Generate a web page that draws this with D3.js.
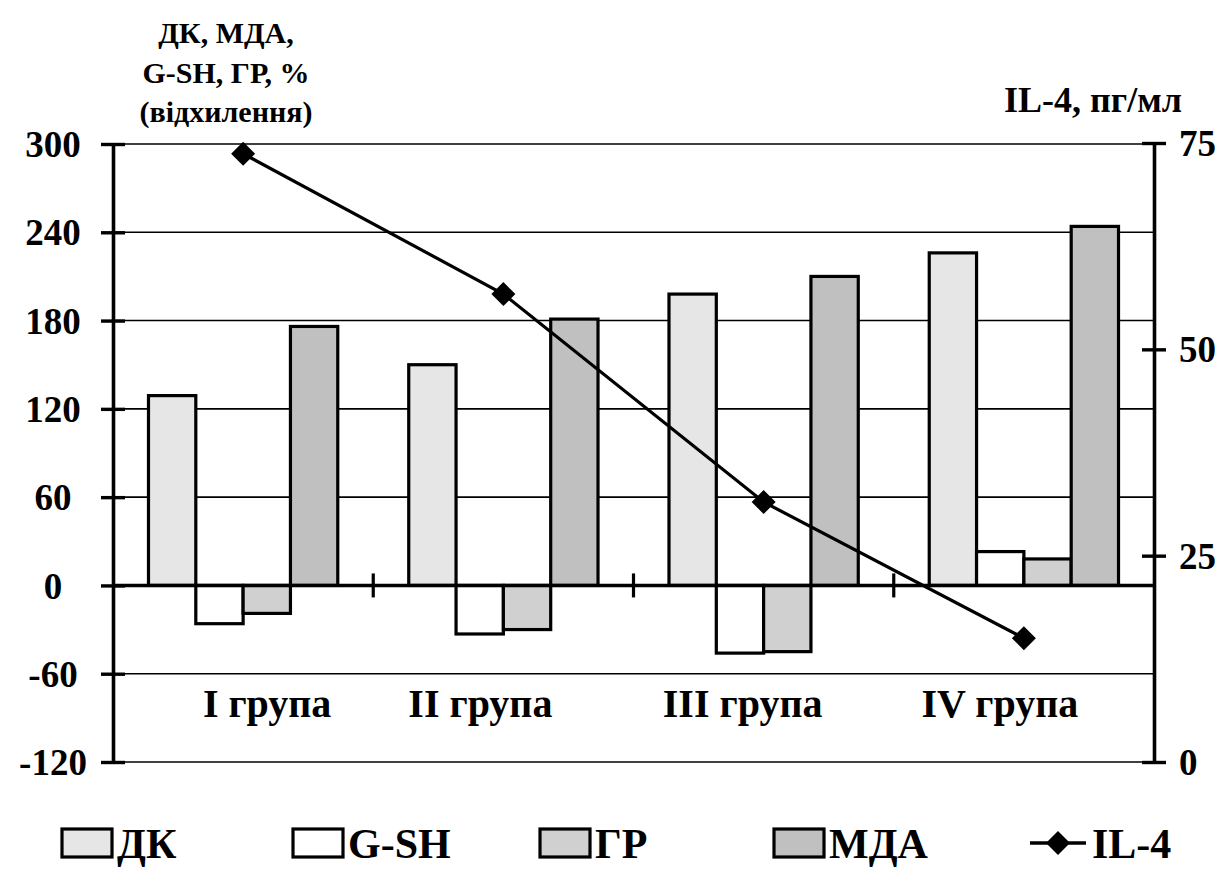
<!DOCTYPE html>
<html>
<head>
<meta charset="utf-8">
<script src="https://cdn.jsdelivr.net/npm/d3@7"></script>
<style>
  html, body { margin: 0; padding: 0; background: #fff; }
  svg { display: block; }
  svg text { font-family: "Liberation Serif", "Times New Roman", serif; font-weight: bold; fill: #000; }
</style>
</head>
<body>
<svg id="chart" width="1227" height="874"></svg>
<script>
// Groups and series
const groups = ["I група", "II група", "III група", "IV група"];
const seriesNames = ["ДК", "G-SH", "ГР", "МДА"];
const dkValues   = [129, 150, 198, 226];
const gshValues  = [-26, -33, -46, 23];
const grValues   = [-19, -30, -45, 18];
const mdaValues  = [176, 181, 210, 244];
const il4Values  = [73.7, 56.7, 31.5, 15.0];
const leftTicks  = [-120, -60, 0, 60, 120, 180, 240, 300];
const rightTicks = [0, 25, 50, 75];

const seriesFill = ["#e6e6e6", "#ffffff", "#d0d0d0", "#c0c0c0"];
const seriesValues = [dkValues, gshValues, grValues, mdaValues];

const svg = d3.select("#chart");

const plot = { left: 113, right: 1154, top: 144, bottom: 762 };

const x = d3.scaleBand().domain(groups).range([plot.left, plot.right]).padding(0);
const xs = d3.scaleBand().domain(seriesNames).range([0, x.bandwidth()])
  .paddingInner(0).paddingOuter(0.75);
const yL = d3.scaleLinear().domain([-120, 300]).range([plot.bottom, plot.top]);
const yR = d3.scaleLinear().domain([0, 75]).range([plot.bottom, plot.top - 1]);

// horizontal gridlines
svg.append("g").selectAll("line").data(leftTicks).join("line")
  .attr("x1", plot.left).attr("x2", plot.right)
  .attr("y1", d => yL(d)).attr("y2", d => yL(d))
  .attr("stroke", "#000").attr("stroke-width", 1.6);

// bars
const bars = [];
groups.forEach((g, gi) => {
  seriesNames.forEach((s, si) => {
    bars.push({ g, s, v: seriesValues[si][gi], fill: seriesFill[si] });
  });
});
svg.append("g").selectAll("rect").data(bars).join("rect")
  .attr("x", d => x(d.g) + xs(d.s))
  .attr("width", xs.bandwidth())
  .attr("y", d => yL(Math.max(0, d.v)))
  .attr("height", d => Math.abs(yL(d.v) - yL(0)))
  .attr("fill", d => d.fill)
  .attr("stroke", "#000").attr("stroke-width", 3.2);

// category axis along zero
const zeroY = yL(0);
svg.append("line").attr("x1", plot.left).attr("x2", plot.right)
  .attr("y1", zeroY).attr("y2", zeroY)
  .attr("stroke", "#000").attr("stroke-width", 3.4);
svg.append("g").selectAll("line").data(groups.slice(1)).join("line")
  .attr("x1", d => x(d)).attr("x2", d => x(d))
  .attr("y1", zeroY - 12).attr("y2", zeroY + 12)
  .attr("stroke", "#000").attr("stroke-width", 3.2);

const plainNumber = d => String(d);

// left value axis (labels centred in the margin)
const leftAxis = d3.axisLeft(yL).tickValues(leftTicks).tickFormat(plainNumber)
  .tickSizeInner(12).tickSizeOuter(0).tickPadding(18);
const gL = svg.append("g").attr("transform", `translate(${plot.left},0)`).call(leftAxis);
gL.attr("font-family", null).attr("font-size", null);
gL.select(".domain").attr("stroke-width", 3.6);
gL.selectAll(".tick line").attr("x1", 12).attr("x2", -12).attr("stroke-width", 3.4);
gL.selectAll(".tick text").style("font-size", "37px").attr("dy", "0.34em")
  .attr("text-anchor", "middle").attr("x", 53 - plot.left);

// right value axis
const rightAxis = d3.axisRight(yR).tickValues(rightTicks).tickFormat(plainNumber)
  .tickSizeInner(12).tickSizeOuter(0).tickPadding(13);
const gR = svg.append("g").attr("transform", `translate(${plot.right},0)`).call(rightAxis);
gR.attr("font-family", null).attr("font-size", null);
gR.select(".domain").attr("stroke-width", 3.6);
gR.selectAll(".tick line").attr("x1", -12).attr("x2", 12).attr("stroke-width", 3.4);
gR.selectAll(".tick text").style("font-size", "37px").attr("dy", "0.34em");

// IL-4 line
const cx = g => x(g) + x.bandwidth() / 2;
const il4 = groups.map((g, i) => ({ g, v: il4Values[i] }));
svg.append("path").datum(il4)
  .attr("d", d3.line().x(d => cx(d.g)).y(d => yR(d.v)))
  .attr("fill", "none").attr("stroke", "#000").attr("stroke-width", 3.2);
const diamond = "M0,-12L12,0L0,12L-12,0Z";
svg.append("g").selectAll("path").data(il4).join("path")
  .attr("transform", d => `translate(${cx(d.g)},${yR(d.v)})`)
  .attr("d", diamond).attr("fill", "#000");

// group labels
const labelNudge = [24, -23, -21, -24];
svg.append("g").selectAll("text").data(groups).join("text")
  .attr("x", (d, i) => cx(d) + labelNudge[i])
  .attr("y", 717)
  .attr("text-anchor", "middle")
  .style("font-size", "40px")
  .text(d => d);

// axis titles
const leftTitle = ["ДК, МДА,", "G-SH, ГР, %", "(відхилення)"];
svg.append("g").selectAll("text").data(leftTitle).join("text")
  .attr("x", 226).attr("y", (d, i) => 43 + i * 39.5)
  .attr("text-anchor", "middle").style("font-size", "30px")
  .text(d => d);
svg.append("text").attr("x", 1093).attr("y", 112)
  .attr("text-anchor", "middle").style("font-size", "36px")
  .text("IL-4, пг/мл");

// legend
const legendY = 843;
const legendItems = seriesNames.map((s, i) => ({ name: s, fill: seriesFill[i], type: "box" }))
  .concat([{ name: "IL-4", type: "line" }]);
const legendX = [62, 293, 540, 774, 1030];
const lg = svg.append("g").selectAll("g").data(legendItems).join("g")
  .attr("transform", (d, i) => `translate(${legendX[i]},${legendY})`);
lg.filter(d => d.type === "box").append("rect")
  .attr("x", 0).attr("y", -14).attr("width", 50).attr("height", 28)
  .attr("fill", d => d.fill).attr("stroke", "#000").attr("stroke-width", 3.2);
lg.filter(d => d.type === "line").append("line")
  .attr("x1", 0).attr("x2", 56).attr("y1", 0).attr("y2", 0)
  .attr("stroke", "#000").attr("stroke-width", 3.4);
lg.filter(d => d.type === "line").append("path")
  .attr("transform", "translate(28,0)").attr("d", diamond).attr("fill", "#000");
lg.append("text")
  .attr("x", d => d.type === "line" ? 62 : 55)
  .attr("y", 0).attr("dy", "0.35em")
  .style("font-size", "42px")
  .text(d => d.name);
</script>
</body>
</html>
